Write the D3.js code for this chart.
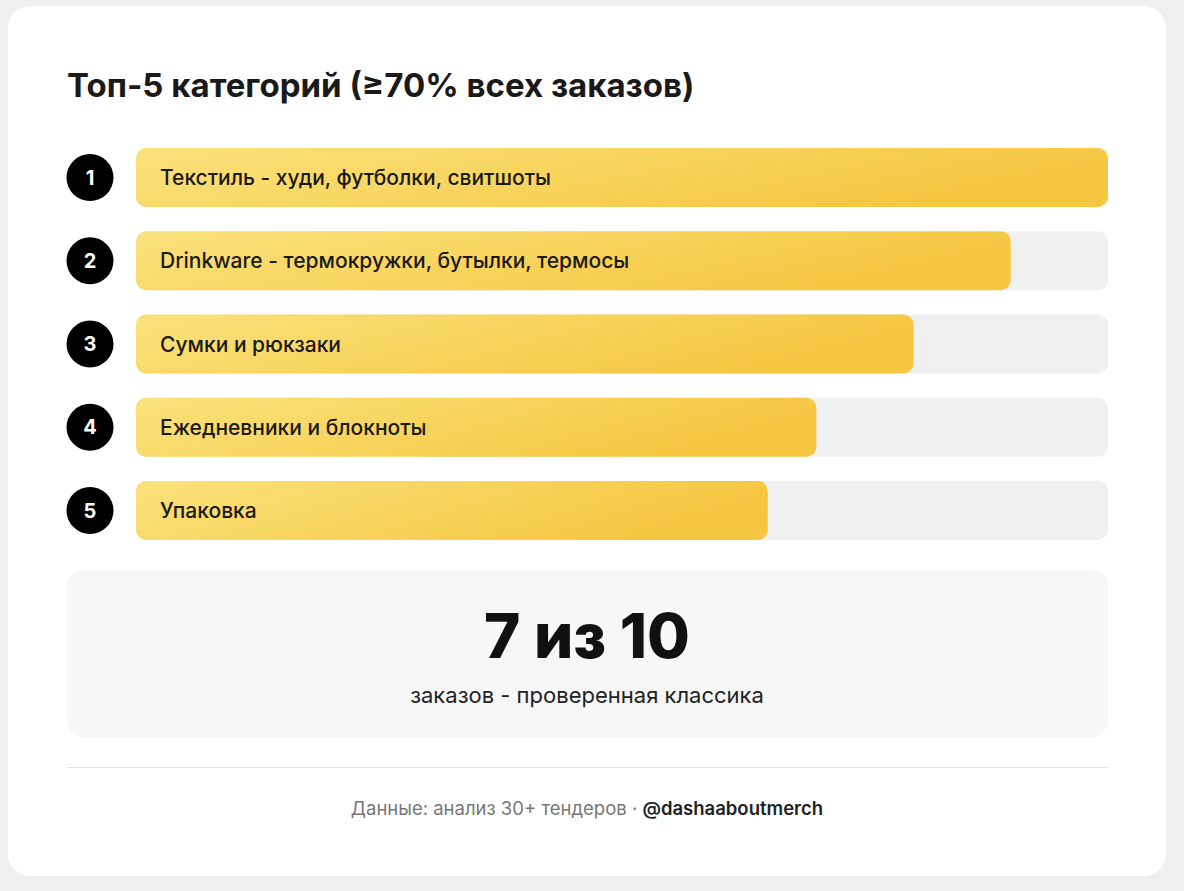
<!DOCTYPE html>
<html><head><meta charset="utf-8">
<script src="https://cdn.jsdelivr.net/npm/d3@7"></script>
<style>html,body{margin:0;padding:0;background:#efefef;}svg{display:block;font-family:Inter,"Noto Sans",sans-serif;}</style>
</head><body>
<svg id="c" width="1184" height="891"></svg>
<script>
const categories = ["Текстиль - худи, футболки, свитшоты","Drinkware - термокружки, бутылки, термосы","Сумки и рюкзаки","Ежедневники и блокноты","Упаковка"];
const values = [100, 90, 80, 70, 65];
const ranks = ["1","2","3","4","5"];
const svg = d3.select("#c");
const defs = svg.append("defs");
const g = defs.append("linearGradient").attr("id","gr").attr("x1","0").attr("x2","1").attr("y1","0").attr("y2","0.3");
g.append("stop").attr("offset","0").attr("stop-color","#fbe27c");
g.append("stop").attr("offset","1").attr("stop-color","#f5c640");
svg.append("rect").attr("x",8).attr("y",6).attr("width",1158).attr("height",870).attr("rx",22).attr("fill","#fff");
svg.append("text").attr("x",67).attr("y",97).attr("font-size",33).attr("font-weight",700).attr("fill","#1a1a1a").text("Топ-5 категорий (≥70% всех заказов)");
const x = d3.scaleLinear().domain([0,100]).range([0,972]);
const y = d3.scaleBand().domain(d3.range(5)).range([148,540]).paddingInner(0.291).paddingOuter(0);
const rows = svg.selectAll("g.row").data(categories).join("g").attr("class","row").attr("transform",(d,i)=>`translate(0,${y(i)})`);
const h = y.bandwidth();
rows.append("rect").attr("x",136).attr("width",x(100)).attr("height",h).attr("rx",10).attr("fill","#f0f0f0");
rows.append("rect").attr("x",136).attr("width",(d,i)=>x(values[i])).attr("height",h).attr("rx",10).attr("fill","url(#gr)");
rows.append("circle").attr("cx",90).attr("cy",h/2).attr("r",23.5).attr("fill","#000");
rows.append("text").attr("x",90).attr("y",h/2).attr("dy","0.36em").attr("text-anchor","middle").attr("fill","#fff").attr("font-size",20).attr("font-weight",700).text((d,i)=>ranks[i]);
rows.append("text").attr("x",160).attr("y",h/2).attr("dy","0.36em").attr("fill","#1a1a1a").attr("font-size",21).attr("font-weight",500).text(d=>d);
svg.append("rect").attr("x",67).attr("y",570).attr("width",1041).attr("height",167).attr("rx",16).attr("fill","#f7f7f7");
svg.append("text").attr("x",587).attr("y",658).attr("text-anchor","middle").attr("font-size",62).attr("font-weight",800).attr("fill","#111").text("7 из 10");
svg.append("text").attr("x",587).attr("y",703).attr("text-anchor","middle").attr("font-size",22).attr("fill","#222").text("заказов - проверенная классика");
svg.append("line").attr("x1",67).attr("x2",1108).attr("y1",767.5).attr("y2",767.5).attr("stroke","#e2e2e2");
const ft = svg.append("text").attr("x",587).attr("y",815).attr("text-anchor","middle").attr("font-size",18.5);
ft.append("tspan").attr("fill","#777").text("Данные: анализ 30+ тендеров · ");
ft.append("tspan").attr("fill","#222").attr("font-weight",600).text("@dashaaboutmerch");
</script>
</body></html>
